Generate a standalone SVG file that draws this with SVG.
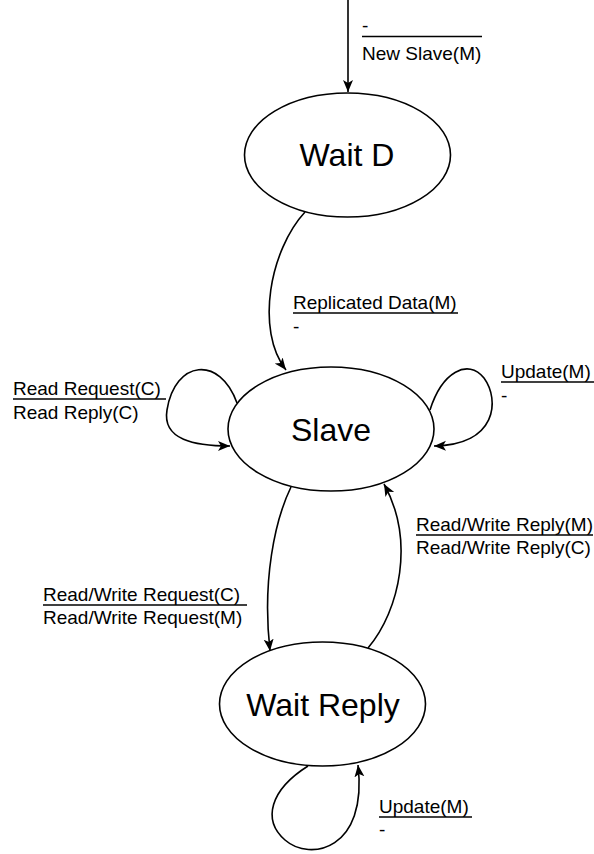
<svg xmlns="http://www.w3.org/2000/svg" width="594" height="854" viewBox="0 0 594 854">
<style>
.node ellipse{fill:#fff;stroke:#000;stroke-width:1.6}
.node text{font-family:"Liberation Sans",Arial,sans-serif;font-size:32px;text-anchor:middle;fill:#000}
.edge{fill:none;stroke:#000;stroke-width:1.6;marker-end:url(#arr)}
.lbl text{font-family:"Liberation Sans",Arial,sans-serif;font-size:19px;fill:#000}
.lbl line{stroke:#000;stroke-width:1.5}
</style>
<defs>
<marker id="arr" markerUnits="userSpaceOnUse" markerWidth="14" markerHeight="12" refX="12" refY="5" orient="auto">
<path d="M0,0 L12,5 L0,10 L3,5 z" fill="#000"/>
</marker>
</defs>
<g id="edges">
<path class="edge" d="M348,0 L348,92"/>
<path class="edge" d="M305,212 C270,250 255,330 286,370"/>
<path class="edge" d="M237,403 C220,355 175,360 167,410 C162,440 195,446 230,446"/>
<path class="edge" d="M430,410 C442,372 468,358 484,378 C500,400 497,445 434,446"/>
<path class="edge" d="M291,487 C275,520 262,580 270,651"/>
<path class="edge" d="M368,648 C400,610 415,540 384,484"/>
<path class="edge" d="M308,766 C270,790 262,820 285,840 C310,862 368,850 358,765"/>
</g>
<g id="wait-d" class="node">
<ellipse cx="347.5" cy="155" rx="103" ry="62"/>
<text x="347" y="166">Wait D</text>
</g>
<g id="slave" class="node">
<ellipse cx="331" cy="429" rx="103" ry="62"/>
<text x="331" y="441">Slave</text>
</g>
<g id="wait-reply" class="node">
<ellipse cx="322.5" cy="704" rx="103" ry="62"/>
<text x="323" y="716">Wait Reply</text>
</g>
<g id="labels" class="lbl">
<g id="lbl-init"><text x="362" y="32">-</text><line x1="362" y1="36.5" x2="482" y2="36.5"/><text x="362" y="60">New Slave(M)</text></g>
<g id="lbl-repl"><text x="293" y="309">Replicated Data(M)</text><line x1="293" y1="313" x2="458" y2="313"/><text x="293" y="333">-</text></g>
<g id="lbl-read"><text x="13" y="395">Read Request(C)</text><line x1="13" y1="399" x2="166" y2="399"/><text x="13" y="419">Read Reply(C)</text></g>
<g id="lbl-upd1"><text x="501" y="378">Update(M)</text><line x1="501" y1="382" x2="594" y2="382"/><text x="501" y="402">-</text></g>
<g id="lbl-rwreq"><text x="43" y="601">Read/Write Request(C)</text><line x1="43" y1="605" x2="247" y2="605"/><text x="43" y="624">Read/Write Request(M)</text></g>
<g id="lbl-rwrep"><text x="416" y="531">Read/Write Reply(M)</text><line x1="416" y1="535" x2="593" y2="535"/><text x="416" y="554">Read/Write Reply(C)</text></g>
<g id="lbl-upd2"><text x="379" y="813">Update(M)</text><line x1="379" y1="817" x2="472" y2="817"/><text x="379" y="836">-</text></g>
</g>
</svg>
